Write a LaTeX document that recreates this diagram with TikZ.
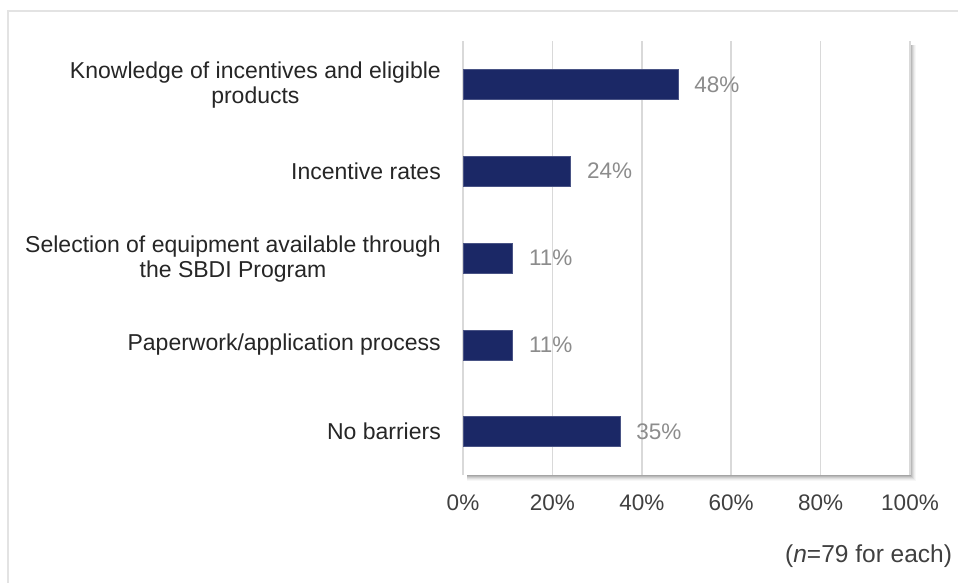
\documentclass[tikz,border=0pt]{standalone}
\usepackage{fontspec}
\setmainfont{Liberation Sans}
\definecolor{barblue}{HTML}{1B2866}
\definecolor{gridgray}{HTML}{D9D9D9}
\definecolor{framegray}{HTML}{E3E3E3}
\definecolor{valgray}{HTML}{8C8C8C}
\definecolor{txt}{HTML}{262626}
\definecolor{ticktxt}{HTML}{404040}
\tikzset{
  cat/.style={anchor=east, align=center, text=txt, inner sep=0pt, font=\fontsize{23}{25}\selectfont},
  bar/.style={fill=barblue, draw=barblue!80!white, line width=0.6pt, minimum height=30pt, inner sep=0pt, anchor=west},
  val/.style={anchor=west, text=valgray, inner sep=0pt, font=\fontsize{22.5}{25}\selectfont},
  tick/.style={anchor=center, text=ticktxt, inner sep=0pt, font=\fontsize{22.5}{25}\selectfont},
  grid/.style={draw=gridgray, line width=1.6pt},
}
\begin{document}
\begin{tikzpicture}[x=1pt,y=-1pt]
\useasboundingbox (0,0) rectangle (958,582);
\fill[white] (0,0) rectangle (958,582);
% outer frame (top and left)
\draw[framegray, line width=2pt] (8,590) -- (8,10.5) -- (970,10.5);
% plot area shadow
\foreach \i/\o in {1/0.10,2/0.09,3/0.08,4/0.06,5/0.04,6/0.03} {
  \fill[black, opacity=\o] (467,45) rectangle (910+\i,475+\i);
}
\fill[white] (463,41) rectangle (910,475);
% gridlines
\foreach \g in {0,1,2,3,4,5} {
  \draw[grid] (463+89.4*\g,41) -- (463+89.4*\g,475);
}
% bars
\node[bar, minimum width=214.6pt] (b1) at (463,84.4) {};
\node[bar, minimum width=107.3pt] (b2) at (463,171.2) {};
\node[bar, minimum width=49.2pt]  (b3) at (463,258) {};
\node[bar, minimum width=49.2pt]  (b4) at (463,344.8) {};
\node[bar, minimum width=156.5pt] (b5) at (463,431.6) {};
% values
\node[val] (v1) at ([xshift=16pt]b1.east) {48\%};
\node[val] (v2) at ([xshift=16pt]b2.east) {24\%};
\node[val] (v3) at ([xshift=16pt]b3.east) {11\%};
\node[val] (v4) at ([xshift=16pt]b4.east) {11\%};
\node[val] (v5) at ([xshift=16pt]b5.east) {35\%};
% categories
\node[cat] (c1) at (441,85) {Knowledge of incentives and eligible\\products};
\node[cat] (c2) at (441,171.2) {Incentive rates};
\node[cat] (c3) at (441,259) {Selection of equipment available through\\the SBDI Program};
\node[cat] (c4) at (441,344.8) {Paperwork/application process};
\node[cat] (c5) at (441,431.6) {No barriers};
% ticks
\node[tick] (t0) at (463,503) {0\%};
\node[tick] (t1) at (552.4,503) {20\%};
\node[tick] (t2) at (641.8,503) {40\%};
\node[tick] (t3) at (731.2,503) {60\%};
\node[tick] (t4) at (820.6,503) {80\%};
\node[tick] (t5) at (910,503) {100\%};
% note
\node[anchor=west, text=ticktxt, inner sep=0pt, font=\fontsize{24.5}{26}\selectfont] (note) at (785,556) {(\textit{n}=79 for each)};
\end{tikzpicture}
\end{document}
